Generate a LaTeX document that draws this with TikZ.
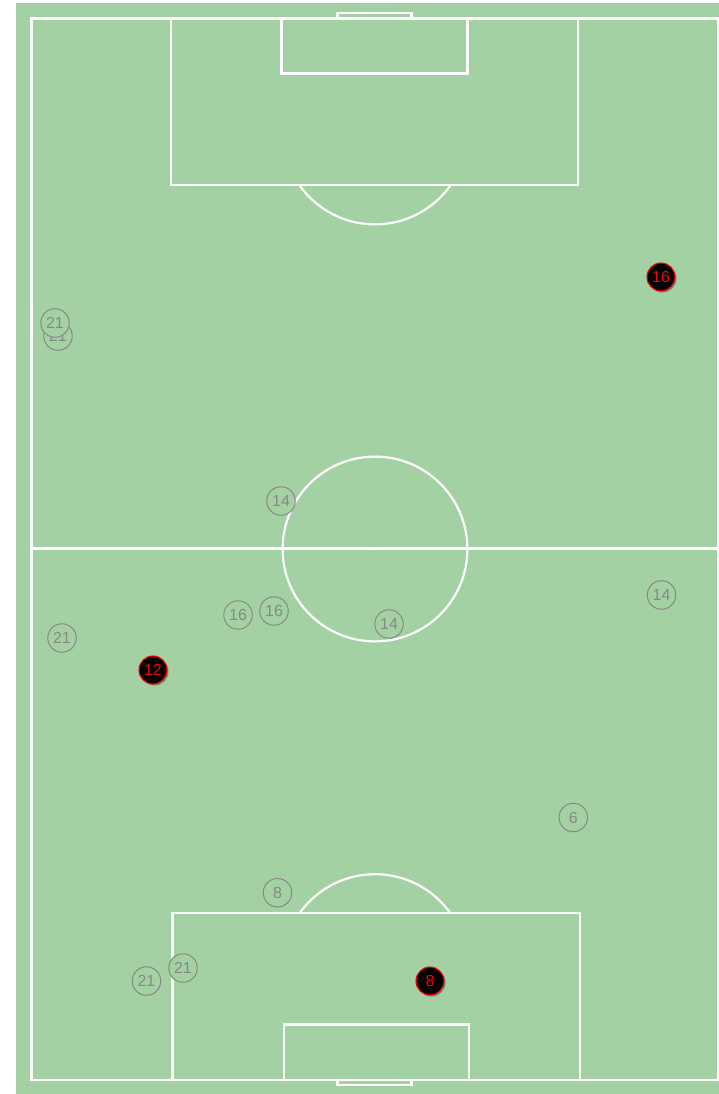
\documentclass[tikz,border=0pt]{standalone}
\usepackage{fontspec}
\setmainfont{Liberation Sans}
\usetikzlibrary{shadows}
\definecolor{pitch}{RGB}{163,209,163}
\definecolor{mk}{RGB}{136,136,136}
\begin{document}
\begin{tikzpicture}[x=1pt,y=-1pt,
  pline/.style={draw=white,line width=2.2pt},
  other/.style={circle,draw=mk,fill=pitch,line width=1pt,minimum size=28.5pt,inner sep=0pt,text=mk,font=\fontsize{16}{16}\selectfont},
  hilite/.style={circle,draw=red,fill=black,line width=1.1pt,minimum size=28pt,inner sep=0pt,text=red,font=\fontsize{16}{16}\selectfont,
    drop shadow={shadow xshift=1.5pt,shadow yshift=-1.5pt,fill=black,opacity=0.35}}]
\useasboundingbox (0,0) rectangle (719,1094);
\fill[pitch] (16,3) rectangle (719,1094);
% pitch outline and halfway line
\draw[pline] (31.5,18.5) rectangle (718,1080);
\draw[pline] (31.5,548.5) -- (718,548.5);
\draw[pline] (375,549) circle[radius=92.4pt];
\fill[white] (375,549) circle[radius=1.6pt];
% top end
\draw[pline] (171,18.5) rectangle (578,185);
\draw[pline] (281.5,18.5) rectangle (467.5,73.5);
\draw[pline] (337.5,18.5) -- (337.5,13) -- (411.5,13) -- (411.5,18.5);
\begin{scope}
  \clip (0,186) rectangle (719,300);
  \draw[pline] (375,132) circle[radius=92.4pt];
\end{scope}
% bottom end
\draw[pline] (172.5,1080) rectangle (580,913);
\draw[pline] (284,1080) rectangle (469,1024.5);
\draw[pline] (337.5,1080) -- (337.5,1085) -- (411.5,1085) -- (411.5,1080);
\begin{scope}
  \clip (0,800) rectangle (719,912);
  \draw[pline] (375,966.6) circle[radius=92.4pt];
\end{scope}
% players
\node[other] (p1) at (58,336) {21};
\node[other] (p2) at (55,323) {21};
\node[other] (p3) at (281,501) {14};
\node[other] (p4) at (661.5,595) {14};
\node[other] (p5) at (238,615) {16};
\node[other] (p6) at (274,611) {16};
\node[other] (p7) at (389,624) {14};
\node[other] (p8) at (62,638) {21};
\node[other] (p9) at (573.3,817.5) {6};
\node[other] (p10) at (277.5,892.7) {8};
\node[other] (p11) at (146.5,981) {21};
\node[other] (p12) at (183,968) {21};
\node[hilite] (h1) at (661,277) {16};
\node[hilite] (h2) at (153,670) {12};
\node[hilite] (h3) at (430,981) {8};
\end{tikzpicture}
\end{document}
